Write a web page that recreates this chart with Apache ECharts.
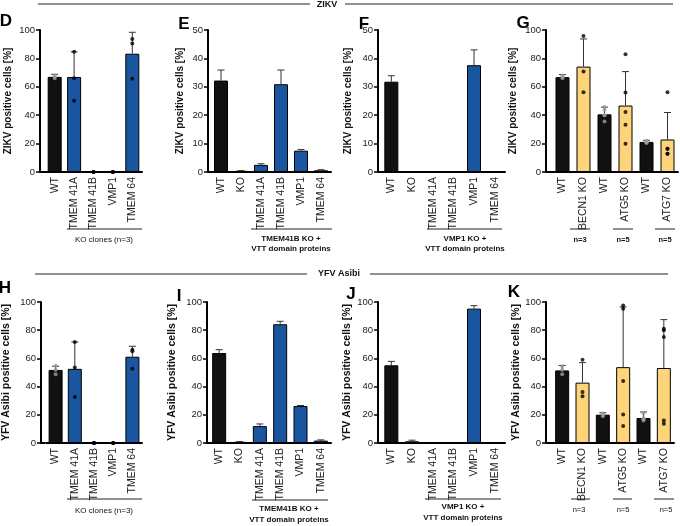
<!DOCTYPE html>
<html><head><meta charset="utf-8">
<script src="https://cdn.jsdelivr.net/npm/echarts@6/dist/echarts.min.js"></script>
<style>html,body{margin:0;padding:0;background:#fff}#c{width:680px;height:526px}</style>
</head><body><div id="c"></div>
<script>
// ---------- data ----------
const catsKO = ['WT', 'TMEM 41A', 'TMEM 41B', 'VMP1', 'TMEM 64'];
const catsVTT = ['WT', 'KO', 'TMEM 41A', 'TMEM 41B', 'VMP1', 'TMEM 64'];
const catsATG = ['WT', 'BECN1 KO', 'WT', 'ATG5 KO', 'WT', 'ATG7 KO'];

// ZIKV
const meanD = [67, 66.9, 0, 0, 83.3];
const errD = [68.8, 84.6, 0, 0, 98.4];
const dotsD = [[66, 67, 68], [84.6, 66, 50.2], [0, 0, 0], [0, 0, 0], [93.7, 90.5, 65.6]];

const meanE = [32.2, 0.4, 2.5, 30.9, 7.5, 0.6];
const errE = [35.9, 0.5, 2.9, 35.9, 7.9, 0.8];

const meanF = [31.8, 0, 0, 0, 37.6, 0];
const errF = [33.9, 0, 0, 0, 43, 0];

const meanG = [66.8, 74.2, 40.6, 46.8, 21.2, 22.9];
const errG = [68.6, 93.7, 45.7, 70.7, 22.3, 41.9];
const dotsG = [[66, 67, 68], [95.8, 70.7, 56.2], [45.7, 43.8, 35.5, 40, 40], [82.9, 55.9, 42.2, 33.2, 19.9], [21, 22, 20.5, 21.5, 21], [56.2, 16.4, 16.4, 12.8, 12.8]];

// YFV Asibi
const meanH = [51.8, 52.6, 0, 0, 61.2];
const errH = [54.4, 71.6, 0, 0, 68.6];
const dotsH = [[48.7, 52, 54.7], [71.6, 53.5, 32.6], [0, 0, 0], [0, 0, 0], [66.2, 65, 52.7]];

const meanI = [63.8, 0.8, 12, 84.2, 26.2, 1.7];
const errI = [66.2, 1.0, 13.5, 86.3, 26.6, 2.2];

const meanJ = [55.1, 1.2, 0, 0, 95.3, 0];
const errJ = [57.9, 2.0, 0, 0, 97.4, 0];

const meanK = [51.5, 42.8, 20.1, 53.8, 17.7, 53.2];
const errK = [55, 57, 21.5, 96.5, 22, 87.5];
const dotsK = [[48.7, 52, 54.5], [59.1, 36.2, 33.1], [20, 21, 19, 20.5, 20], [97.6, 95.3, 44, 20.3, 12], [21, 17, 16, 17, 17.5], [81, 80, 75.2, 16, 13.7]];

const yNameZ = 'ZIKV positive cells [%]';
const yNameY = 'YFV Asibi positive cells [%]';

// ---------- styling / layout ----------
const FONT = 'Liberation Sans, Arial, sans-serif';
const BLACK = '#111111';
const BLUE = '#1a56a0';
const YELLOW = '#fdd47a';

const panels = [
  {letter:'D', cats:catsKO, mean:meanD, err:errD, dots:dotsD, max:100, step:20, fill:BLUE, yname:yNameZ, nsize:10, left:45, width:97, axisX:40, top:30, h:142, gap:27, lx:6, ly:21},
  {letter:'E', cats:catsVTT, mean:meanE, err:errE, dots:null, max:50, step:10, fill:BLUE, yname:yNameZ, nsize:10, left:211, width:120, axisX:208, top:30, h:142, gap:23, lx:184, ly:24},
  {letter:'F', cats:catsVTT, mean:meanF, err:errF, dots:null, max:50, step:10, fill:BLUE, yname:yNameZ, nsize:10, left:381, width:124, axisX:378, top:30, h:142, gap:25, lx:364, ly:24},
  {letter:'G', cats:catsATG, mean:meanG, err:errG, dots:dotsG, max:100, step:20, fill:YELLOW, yname:yNameZ, nsize:10, left:552, width:126, axisX:546, top:30, h:142, gap:28, lx:523, ly:23},
  {letter:'H', cats:catsKO, mean:meanH, err:errH, dots:dotsH, max:100, step:20, fill:BLUE, yname:yNameY, nsize:10.5, left:45, width:97, axisX:40, top:302, h:141, gap:29, lx:5, ly:288},
  {letter:'I', cats:catsVTT, mean:meanI, err:errI, dots:null, max:100, step:20, fill:BLUE, yname:yNameY, nsize:10.5, left:209, width:122, axisX:207, top:302, h:141, gap:29, lx:179, ly:296},
  {letter:'J', cats:catsVTT, mean:meanJ, err:errJ, dots:null, max:100, step:20, fill:BLUE, yname:yNameY, nsize:10.5, left:381, width:124, axisX:378, top:302, h:141, gap:25, lx:351, ly:294},
  {letter:'K', cats:catsATG, mean:meanK, err:errK, dots:dotsK, max:100, step:20, fill:YELLOW, yname:yNameY, nsize:10.5, left:552, width:122, axisX:546, top:302, h:141, gap:23, lx:514, ly:292}
];

const grid = [], xAxis = [], yAxis = [], series = [], graphic = [];

panels.forEach((p, k) => {
  grid.push({left:p.left, top:p.top, width:p.width, height:p.h, containLabel:false});
  xAxis.push({
    type:'category', gridIndex:k, data:p.cats,
    axisLine:{lineStyle:{color:'#000', width:2}},
    axisTick:{alignWithLabel:true, length:3, lineStyle:{color:'#000', width:1.5}},
    axisLabel:{rotate:90, interval:0, margin:5, fontSize:10.5, color:'#222', fontFamily:FONT},
    splitLine:{show:false}
  });
  yAxis.push({
    type:'value', gridIndex:k, min:0, max:p.max, interval:p.step, offset:p.left - p.axisX,
    name:p.yname, nameLocation:'middle', nameGap:p.gap, nameRotate:90,
    nameTextStyle:{fontSize:p.nsize, fontWeight:'bold', color:'#111', fontFamily:FONT},
    axisLine:{show:true, lineStyle:{color:'#000', width:2}},
    axisTick:{show:true, length:4, lineStyle:{color:'#000', width:1.5}},
    axisLabel:{fontSize:9.5, color:'#222', margin:5, fontFamily:FONT},
    splitLine:{show:false}
  });
  series.push({
    type:'bar', xAxisIndex:k, yAxisIndex:k, barWidth:14, z:2,
    data:p.mean.map((v, i) => ({value:v, itemStyle:{color:p.cats[i] === 'WT' ? BLACK : p.fill}})),
    itemStyle:{borderColor:'#000', borderWidth:1}
  });
  series.push({
    type:'custom', xAxisIndex:k, yAxisIndex:k, z:3,
    data:p.err.map((e, i) => [i, p.mean[i], e]),
    renderItem:function(params, api){
      const m = api.value(1), e = api.value(2);
      if (!(e > m)) return;
      const top = api.coord([api.value(0), e]);
      const base = api.coord([api.value(0), m]);
      return {type:'group', children:[
        {type:'line', shape:{x1:top[0], y1:base[1], x2:top[0], y2:top[1]}, style:{stroke:'#333', lineWidth:1}},
        {type:'line', shape:{x1:top[0]-3.5, y1:top[1], x2:top[0]+3.5, y2:top[1]}, style:{stroke:'#333', lineWidth:1}}
      ]};
    }
  });
  if (p.dots) {
    const pts = [];
    p.dots.forEach((arr, i) => arr.forEach(v => pts.push([i, v])));
    series.push({
      type:'scatter', xAxisIndex:k, yAxisIndex:k, z:4, symbolSize:4,
      data:pts,
      itemStyle:{color:function(d){ return p.cats[d.value[0]] === 'WT' ? '#9a9a9a' : '#000'; }}
    });
  }
  // connect y axis with x axis line
  graphic.push({type:'line', shape:{x1:p.axisX, y1:p.top + p.h, x2:p.left, y2:p.top + p.h}, style:{stroke:'#000', lineWidth:2}});
  graphic.push({type:'text', x:p.lx, y:p.ly, style:{text:p.letter, font:'bold 17px ' + FONT, fill:'#000', textAlign:'center', textVerticalAlign:'middle'}});
});

function hline(x1, x2, y, w){ graphic.push({type:'line', shape:{x1:x1, y1:y, x2:x2, y2:y}, style:{stroke:'#222', lineWidth:w || 1}}); }
function label(t, x, y, bold, size){ graphic.push({type:'text', x:x, y:y, style:{text:t, font:(bold ? 'bold ' : '') + (size || 8) + 'px ' + FONT, fill:'#111', textAlign:'center', textVerticalAlign:'middle'}}); }

// section headers
hline(38, 310, 4); hline(345, 673, 4); label('ZIKV', 327, 5, true, 9);
hline(35, 307, 274); hline(370, 668, 274); label('YFV Asibi', 339, 274, true, 9);

// group annotations (top row)
hline(67, 142, 229); label('KO clones (n=3)', 104, 240, false, 8);
hline(251, 332, 229); label('TMEM41B KO +', 291, 239, true, 8); label('VTT domain proteins', 291, 249, true, 8);
hline(427, 502, 229); label('VMP1 KO +', 465, 239, true, 8); label('VTT domain proteins', 465, 249, true, 8);
hline(570, 590, 229); hline(613, 633, 229); hline(655, 675, 229);
label('n=3', 580, 240, true, 7.5); label('n=5', 623, 240, true, 7.5); label('n=5', 665, 240, true, 7.5);
// group annotations (bottom row)
hline(67, 142, 499); label('KO clones (n=3)', 104, 511, false, 8);
hline(252, 328, 500); label('TMEM41B KO +', 289, 509, true, 8); label('VTT domain proteins', 289, 520, true, 8);
hline(425, 501, 499); label('VMP1 KO +', 463, 507, true, 8); label('VTT domain proteins', 463, 518, true, 8);
hline(571, 590, 499); hline(613, 632, 499); hline(654, 674, 499);
label('n=3', 579, 510, false, 7.5); label('n=5', 623, 510, false, 7.5); label('n=5', 666, 510, false, 7.5);

const chart = echarts.init(document.getElementById('c'), null, {renderer:'canvas'});
chart.setOption({
  animation:false,
  backgroundColor:'#fff',
  textStyle:{fontFamily:FONT},
  grid:grid, xAxis:xAxis, yAxis:yAxis, series:series, graphic:graphic
});
</script>
</body></html>
